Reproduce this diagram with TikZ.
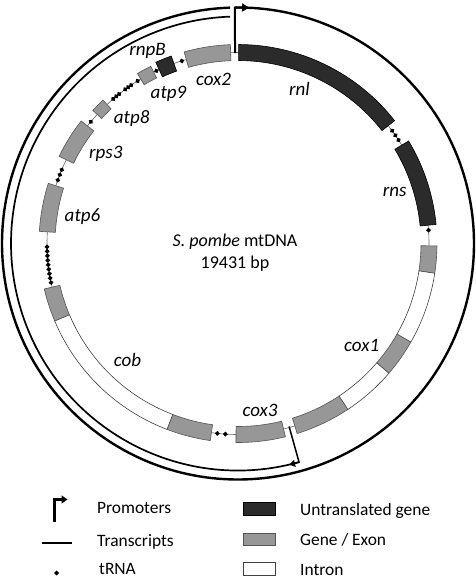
\documentclass[tikz,border=0pt]{standalone}
\usepackage{fontspec}
\setmainfont{Carlito}
\usetikzlibrary{arrows.meta}
\definecolor{exonfill}{HTML}{979797}
\definecolor{exonline}{HTML}{555555}
\definecolor{utgfill}{HTML}{2B2B2B}
\newcommand\gseg[3]{\filldraw[#3] (#1:183pt) arc[start angle=#1,end angle=#2,radius=183pt] -- (#2:199pt) arc[start angle=#2,end angle=#1,radius=199pt] -- cycle;}
\newcommand\gsegr[5]{\filldraw[#5] (#1:#3pt) arc[start angle=#1,end angle=#2,radius=#3pt] -- (#2:#4pt) arc[start angle=#2,end angle=#1,radius=#4pt] -- cycle;}
\newcommand\trnadot[1]{\fill[shift={(#1:191pt)},rotate=#1] (2.5pt,0pt) -- (0pt,2.5pt) -- (-2.5pt,0pt) -- (0pt,-2.5pt) -- cycle;}
\begin{document}
\begin{tikzpicture}[x=1pt,y=-1pt,
  exon/.style={fill=exonfill,draw=exonline,line width=0.6pt},
  utg/.style={fill=utgfill,draw=black,line width=0.6pt},
  intron/.style={fill=white,draw=black!75,line width=0.6pt},
  backbone/.style={draw=black!60,line width=0.6pt},
  genelabel/.style={font=\fontsize{19}{19}\selectfont\itshape,inner sep=0pt,anchor=base},
  centertext/.style={font=\fontsize{18}{18}\selectfont,inner sep=0pt,anchor=base},
  legtext/.style={font=\fontsize{17.4}{17.4}\selectfont,inner sep=0pt,anchor=base west}]
\useasboundingbox (0,0) rectangle (475,579);
\fill[white] (0,0) rectangle (475,579);
\begin{scope}[shift={(238,243.5)}]
  % backbone
  \draw[backbone] (0pt,0pt) circle[radius=191pt];
  % transcripts
  \draw[line width=2.4pt] (90.73:236pt) arc[start angle=90.73,end angle=-268.06,radius=236pt];
  \draw[line width=1.7pt] (285.6:227pt) arc[start angle=285.6,end angle=92,radius=227pt];
  % genes
  \gseg{38.1}{89.8}{utg}      % rnl
  \gseg{5.5}{31}{utg}         % rns
  \gseg{-8.6}{-0.7}{exon}     % cox1 exon 1
  \gseg{-29.7}{-8.6}{intron}
  \gseg{-40.7}{-29.7}{exon}
  \gseg{-56.5}{-40.7}{intron}
  \gseg{-72.7}{-56.5}{exon}
  \gseg{-90.6}{-76.2}{exon}   % cox3
  \gseg{-110.9}{-98}{exon}    % cob exon 2
  \gseg{-157.1}{-110.9}{intron}
  \gseg{-166.8}{-157.1}{exon} % cob exon 1
  \gseg{162.4}{176.5}{exon}   % atp6
  \gseg{142}{154}{exon}       % rps3
  \gsegr{133.3}{137.5}{185}{197}{exon} % atp8
  \gsegr{116.2}{120.6}{184.5}{197.5}{exon} % atp9
  \gseg{109.6}{114.4}{utg}    % rnpB
  \gseg{92.2}{105.7}{exon}    % cox2
  % tRNAs
  \foreach \a in {32.8,34.5,36.2, 4.0, -93.8,-96.2, 107.1, 115.3,
                  121.7,124.0,125.1,126.2,128.5,129.6,130.8, 140.4,
                  157.3,158.9,160.6}
    {\trnadot{\a}}
  \foreach \i in {0,...,8}
    {\trnadot{181+1.35*\i}}
  % promoters
  \draw[line width=2pt,-{Triangle[length=7pt,width=8pt]}] (-3pt,190.5pt) -- (90.73:236pt) arc[start angle=90.73,end angle=87.3,radius=236pt];
  \draw[line width=1.5pt,-{Triangle[length=6pt,width=7pt]}] (285.6:190pt) -- (285.6:227pt) arc[start angle=285.6,end angle=283.0,radius=227pt];
\end{scope}
% gene labels
\node[genelabel] (lrnpB) at (147.5,55) {rnpB};
\node[genelabel] (lcox2) at (213.5,85) {cox2};
\node[genelabel] (latp9) at (168.5,98.3) {atp9};
\node[genelabel] (lrnl) at (299.5,95) {rnl};
\node[genelabel] (latp8) at (131.7,123.3) {atp8};
\node[genelabel] (lrps3) at (105.8,158.3) {rps3};
\node[genelabel] (latp6) at (82.5,221.7) {atp6};
\node[genelabel] (lrns) at (394.7,196.7) {rns};
\node[genelabel] (lcob) at (127.5,366.7) {cob};
\node[genelabel] (lcox1) at (361.7,351.7) {cox1};
\node[genelabel] (lcox3) at (260,416.7) {cox3};
\node[centertext] (title) at (235,246.7) {\textit{S. pombe} mtDNA};
\node[centertext] (size) at (235,268.3) {19431 bp};
% legend
\coordinate (pa) at (54.3,521.7);
\coordinate (pb) at (54.3,499.5);
\coordinate (pc) at (67.5,499.5);
\draw[line width=2.4pt,-{Triangle[length=6pt,width=8pt]}] (pa) -- (pb) -- (pc);
\coordinate (ta) at (41.7,543.3);
\coordinate (tb) at (71.7,543.3);
\draw[line width=2pt] (ta) -- (tb);
\fill[shift={(56.7,573)}] (2.5pt,0pt) -- (0pt,2.5pt) -- (-2.5pt,0pt) -- (0pt,-2.5pt) -- cycle;
\node[legtext] (lprom) at (97,513.3) {Promoters};
\node[legtext] (ltrans) at (97,546.7) {Transcripts};
\node[legtext] (ltrna) at (99,574) {tRNA};
\filldraw[utg] (243.3,502.5) rectangle (275,515.7);
\filldraw[exon] (243.3,533.3) rectangle (275,545.7);
\filldraw[intron] (243.3,562.7) rectangle (275,575);
\node[legtext] (lutg) at (300,515) {Untranslated gene};
\node[legtext] (lexon) at (300,545) {Gene / Exon};
\node[legtext] (lintron) at (300,575) {Intron};
\end{tikzpicture}
\end{document}
